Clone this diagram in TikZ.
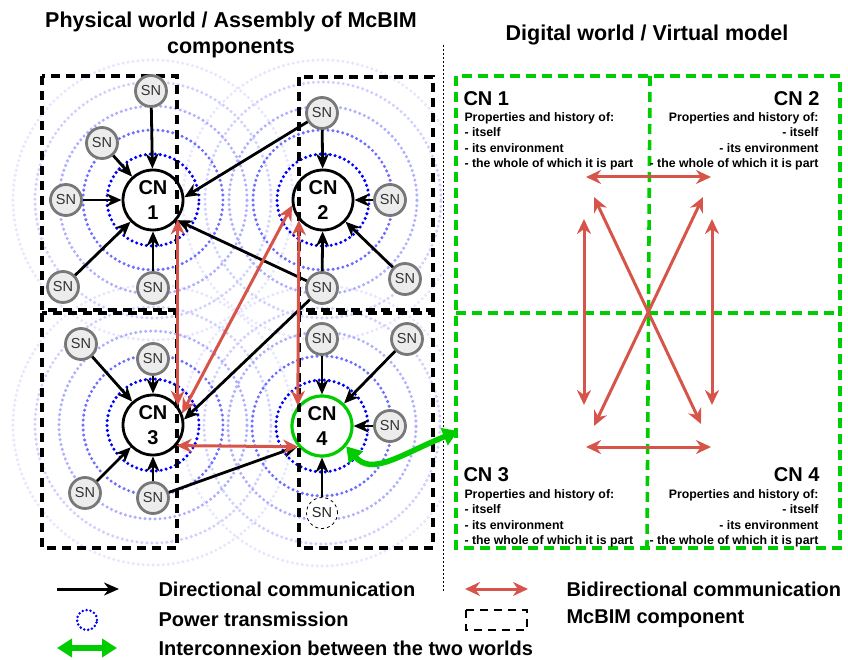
\documentclass[tikz,border=0pt]{standalone}
\usepackage{fontspec}
\setmainfont{Liberation Sans}
\usetikzlibrary{arrows.meta,backgrounds}
\definecolor{myred}{RGB}{214,84,74}
\definecolor{mygreen}{RGB}{0,204,0}
\definecolor{sngray}{RGB}{120,120,120}
\definecolor{snfill}{RGB}{236,236,236}
\definecolor{ringA}{RGB}{0,0,255}
\definecolor{ringB}{RGB}{110,110,255}
\definecolor{ringC}{RGB}{175,175,255}
\definecolor{ringD}{RGB}{208,208,255}
\definecolor{ringE}{RGB}{230,230,255}
\begin{document}
\begin{tikzpicture}[x=1pt,y=-1pt,
  cn/.style={circle,draw=black,line width=2.8pt,fill=white,minimum size=60pt,inner sep=0pt,align=center,font=\fontsize{20}{25}\selectfont\bfseries},
  sn/.style={circle,draw=sngray,line width=2.8pt,fill=snfill,minimum size=31pt,inner sep=0pt,font=\fontsize{14.5}{16}\selectfont,text=black!80},
  sndash/.style={circle,draw=black,dashed,line width=0.8pt,fill=white,minimum size=31pt,inner sep=0pt,font=\fontsize{14.5}{16}\selectfont,text=black!85},
  blk/.style={line width=2.8pt,-{Stealth[length=15pt,width=13pt]}},
  bidir/.style={myred,line width=3pt,{Stealth[length=15pt,width=14pt]}-{Stealth[length=15pt,width=14pt]}},
  greenarrow/.style={mygreen,line width=5.5pt,{Triangle[length=15pt,width=18pt]}-{Triangle[length=15pt,width=18pt]}},
  compbox/.style={black,line width=3.2pt,dash pattern=on 9pt off 6pt},
  greenbox/.style={mygreen,line width=3.6pt,dash pattern=on 10pt off 6pt},
  ring/.style={line width=3.4pt,line cap=round,dash pattern=on 0pt off 5pt},
  title/.style={font=\fontsize{21.5}{26}\selectfont\bfseries,align=center},
  legtext/.style={font=\fontsize{20}{24}\selectfont\bfseries,anchor=west},
  cnlabel/.style={font=\fontsize{20}{24}\selectfont\bfseries},
  cnbody/.style={font=\fontsize{12.3}{15.5}\selectfont\bfseries}
]
\useasboundingbox (0,0) rectangle (848,660);

% titles
\node[title] (t1) at (231,35) {Physical world / Assembly of McBIM\\components};
\node[title] (t2) at (647,35) {Digital world / Virtual model};

% separator
\coordinate (sepT) at (443,45);
\coordinate (sepB) at (443,592);
\draw[line width=0.9pt,dash pattern=on 2pt off 2pt] (sepT) -- (sepB);

% CN nodes
\node[cn] (CN1) at (153,200) {CN\\1};
\node[cn] (CN2) at (323,200) {CN\\2};
\node[cn] (CN3) at (153,425) {CN\\3};
\node[cn,draw=mygreen,line width=3.2pt] (CN4) at (322,426) {CN\\4};

% power rings
\begin{scope}[on background layer]
\clip (0,50) rectangle (444,600);
\foreach \r/\col in {140/ringE,118/ringD,94/ringC,70/ringB,46/ringA}{
  \foreach \n in {CN1,CN2,CN3,CN4}{
    \draw[ring,\col] (\n.center) circle[radius=\r pt];
  }
}
\end{scope}

% component boxes
\draw[compbox] (42,76) rectangle (177,310);
\draw[compbox] (299,77) rectangle (433,310);
\draw[compbox] (42,313) rectangle (177,548);
\draw[compbox] (299,313) rectangle (433,548);

% SN nodes
\node[sn] (s1a) at (151,91) {SN};
\node[sn] (s1b) at (102,143) {SN};
\node[sn] (s1c) at (66,200) {SN};
\node[sn] (s1d) at (63,287) {SN};
\node[sn] (s1e) at (153,288) {SN};
\node[sn] (s2a) at (322,113) {SN};
\node[sn] (s2b) at (390,200) {SN};
\node[sn] (s2c) at (405,279) {SN};
\node[sn] (s2d) at (322,288) {SN};
\node[sn] (s3a) at (81,344) {SN};
\node[sn] (s3b) at (153,359) {SN};
\node[sn] (s3c) at (85,493) {SN};
\node[sn] (s3d) at (153,498) {SN};
\node[sn] (s4a) at (322,339) {SN};
\node[sn] (s4b) at (407,339) {SN};
\node[sn] (s4c) at (390,426) {SN};
\node[sndash] (s4d) at (322,513) {SN};

% directional communication
\foreach \s in {s1a,s1b,s1c,s1d,s1e}{\draw[blk] (\s) -- (CN1);}
\draw[blk] (s2a) -- (CN1.5);
\draw[blk] (s2d) -- (CN1.-40);
\foreach \s in {s2a,s2b,s2c,s2d}{\draw[blk] (\s) -- (CN2);}
\draw[blk] (s2d) -- (CN3.10);
\foreach \s in {s3a,s3b,s3c,s3d}{\draw[blk] (\s) -- (CN3);}
\foreach \s in {s4a,s4b,s4c,s4d}{\draw[blk] (\s) -- (CN4);}
\draw[blk] (s3d) -- (CN4.-140);

% bidirectional communication
\draw[bidir] (CN1.-38) -- (CN3.38);
\draw[bidir] (CN2.-140) -- (CN4.140);
\draw[bidir] (CN2.190) -- (CN3.22);
\draw[bidir] (CN3.-41) -- (CN4.-139);

% digital world
\draw[greenbox] (456,76) rectangle (840,548);
\coordinate (gvT) at (650,76);
\coordinate (gvB) at (647,548);
\coordinate (ghL) at (456,313);
\coordinate (ghR) at (840,313);
\draw[greenbox] (gvT) -- (gvB);
\draw[greenbox] (ghL) -- (ghR);

\node[cnlabel,anchor=west] (d1) at (460,99) {CN 1};
\node[cnbody,anchor=north west,align=left] (b1) at (461,109) {Properties and history of:\\- itself\\- its environment\\- the whole of which it is part};
\node[cnlabel,anchor=east] (d2) at (823,99) {CN 2};
\node[cnbody,anchor=north east,align=right] (b2) at (822,109) {Properties and history of:\\- itself\\- its environment\\- the whole of which it is part};
\node[cnlabel,anchor=west] (d3) at (460,475) {CN 3};
\node[cnbody,anchor=north west,align=left] (b3) at (461,486) {Properties and history of:\\- itself\\- its environment\\- the whole of which it is part};
\node[cnlabel,anchor=east] (d4) at (823,475) {CN 4};
\node[cnbody,anchor=north east,align=right] (b4) at (822,486) {Properties and history of:\\- itself\\- its environment\\- the whole of which it is part};

\coordinate (r1) at (586,177); \coordinate (r2) at (711,177);
\coordinate (r3) at (586,447); \coordinate (r4) at (711,447);
\coordinate (r5) at (584,219); \coordinate (r6) at (584,405);
\coordinate (r7) at (712,219); \coordinate (r8) at (712,405);
\coordinate (r9) at (594,197); \coordinate (r10) at (701,424);
\coordinate (r11) at (703,197); \coordinate (r12) at (594,426);
\draw[bidir] (r1) -- (r2);
\draw[bidir] (r3) -- (r4);
\draw[bidir] (r5) -- (r6);
\draw[bidir] (r7) -- (r8);
\draw[bidir] (r9) -- (r10);
\draw[bidir] (r11) -- (r12);

% interconnexion
\coordinate (gIn) at (458,431);
\draw[greenarrow] (gIn) .. controls (400,455) and (372,476) .. (CN4.-40);

% legend
\coordinate (lA1) at (57,589); \coordinate (lA2) at (119,589);
\draw[blk,line width=3pt] (lA1) -- (lA2);
\coordinate (lP) at (87,620);
\draw[ring,ringA,line width=2.8pt,dash pattern=on 0pt off 4pt] (lP) circle[radius=10pt];
\coordinate (lG1) at (57,648); \coordinate (lG2) at (117,648);
\draw[greenarrow] (lG1) -- (lG2);
\coordinate (lR1) at (465,589); \coordinate (lR2) at (528,589);
\draw[bidir] (lR1) -- (lR2);
\draw[compbox,line width=2.8pt,dash pattern=on 8pt off 6pt] (466,610) rectangle (527,630);

\node[legtext] (L1) at (155,589) {Directional communication};
\node[legtext] (L2) at (155,619) {Power transmission};
\node[legtext] (L3) at (155,648) {Interconnexion between the two worlds};
\node[legtext] (L4) at (563,589) {Bidirectional communication};
\node[legtext] (L5) at (563,619) {McBIM component};
\end{tikzpicture}
\end{document}
